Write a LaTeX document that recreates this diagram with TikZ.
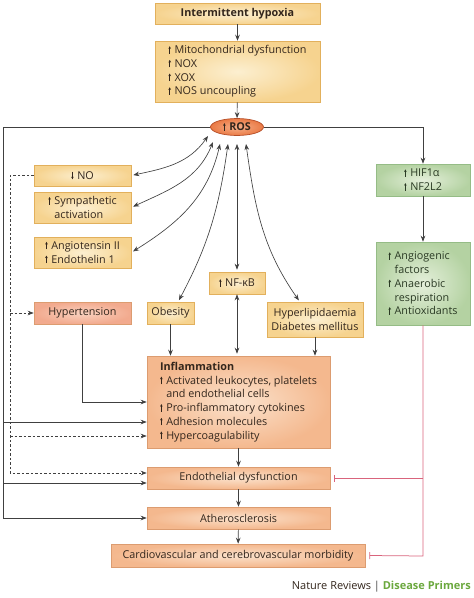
\documentclass[tikz,border=0pt]{standalone}
\usepackage{fontspec}
\setmainfont{Open Sans}
\usetikzlibrary{arrows.meta,shapes.geometric}
\definecolor{yin}{HTML}{FCEFD0}
\definecolor{yout}{HTML}{F6D38F}
\definecolor{ybord}{HTML}{E2B05C}
\definecolor{oin}{HTML}{FBE2CC}
\definecolor{oout}{HTML}{F4B88E}
\definecolor{obord}{HTML}{DC9C70}
\definecolor{hin}{HTML}{FAD2C0}
\definecolor{hout}{HTML}{F2AA8E}
\definecolor{gin}{HTML}{E4EFDA}
\definecolor{gout}{HTML}{B4D2A2}
\definecolor{gbord}{HTML}{95BC86}
\definecolor{rosin}{HTML}{F6B08A}
\definecolor{rosout}{HTML}{EA7A45}
\definecolor{rosbord}{HTML}{B54E28}
\definecolor{txt}{HTML}{33261C}
\definecolor{gtxt}{HTML}{2A3A24}
\definecolor{lin}{HTML}{404040}
\definecolor{inh}{HTML}{D9647C}
\definecolor{npgreen}{HTML}{6BA83E}
\newcommand\ua{\tikz[baseline=0pt]\draw[line width=0.55pt,-{Stealth[length=2.6pt,width=2.6pt]}] (0pt,0pt) -- (0pt,7.6pt);\hspace{3.6pt}}
\newcommand\da{\tikz[baseline=0pt]\draw[line width=0.55pt,-{Stealth[length=2.6pt,width=2.6pt]}] (0pt,7.6pt) -- (0pt,0pt);\hspace{3.6pt}}
\newcommand\ind{\phantom{\ua}}
\tikzset{
  box/.style={line width=0.6pt, inner sep=0pt, align=left, text=txt,
    font=\fontsize{10.8}{13.7}\selectfont},
  ybox/.style={box, draw=ybord, inner color=yin, outer color=yout},
  obox/.style={box, draw=obord, inner color=oin, outer color=oout},
  gbox/.style={box, draw=gbord, inner color=gin, outer color=gout, text=gtxt},
  conn/.style={draw=lin, line width=0.65pt, -{Stealth[length=6pt,width=4.6pt]}},
  dconn/.style={conn, dash pattern=on 2.5pt off 2pt},
  both/.style={draw=lin, line width=0.65pt, {Stealth[length=6pt,width=4.6pt]}-{Stealth[length=6pt,width=4.6pt]}, shorten >=2pt},
  inhib/.style={draw=inh, line width=0.75pt, -{Bar[width=7pt]}}
}
\begin{document}
\begin{tikzpicture}
\useasboundingbox (0,0) rectangle (474pt,-598pt);
\begin{scope}[x=1pt,y=1pt]
\node[ybox, minimum width=165, minimum height=21, font=\fontsize{10.8}{13.7}\selectfont\bfseries] (hyp) at (237.5,-13.5) {Intermittent hypoxia};
\node[ybox, minimum width=165, minimum height=61] (mito) at (237.5,-71.5) {\ua Mitochondrial dysfunction\\\ua NOX\\\ua XOX\\\ua NOS uncoupling};
\node[ellipse, draw=rosbord, inner color=rosin, outer color=rosout, line width=0.7pt, inner sep=0pt, minimum width=53, minimum height=17, text=txt, font=\fontsize{10.8}{12}\selectfont\bfseries] (ros) at (237,-127) {\ua ROS};
\node[ybox, minimum width=97, minimum height=21] (no) at (82.5,-175.5) {\da NO};
\node[ybox, minimum width=97, minimum height=31] (symp) at (82.5,-207.5) {\ua Sympathetic\\\ind activation};
\node[ybox, minimum width=97, minimum height=31] (angio) at (82.5,-252.5) {\ua Angiotensin II\\\ua Endothelin 1};
\node[box, draw=obord, inner color=hin, outer color=hout, minimum width=97, minimum height=22] (hyper) at (82.5,-313) {Hypertension};
\node[ybox, minimum width=47, minimum height=22] (obes) at (170.5,-313) {Obesity};
\node[ybox, minimum width=56, minimum height=22] (nfkb) at (237,-283) {\ua NF-κB};
\node[ybox, minimum width=96, minimum height=35, align=center] (lip) at (315,-319.5) {Hyperlipidaemia\\Diabetes mellitus};
\node[gbox, minimum width=94, minimum height=32] (hif) at (423,-180) {\ua HIF1α\\\ua NF2L2};
\node[gbox, minimum width=94, minimum height=83] (angg) at (423,-283.5) {\ua Angiogenic\\\ind factors\\\ua Anaerobic\\\ind respiration\\\ua Antioxidants};
\node[obox, minimum width=183, minimum height=92] (infl) at (238.5,-402) {\textbf{Inflammation}\\\ua Activated leukocytes, platelets\\\ind and endothelial cells\\\ua Pro-inflammatory cytokines\\\ua Adhesion molecules\\\ua Hypercoagulability};
\node[obox, minimum width=183, minimum height=22] (endo) at (238.5,-478) {Endothelial dysfunction};
\node[obox, minimum width=183, minimum height=22] (ath) at (238.5,-518) {Atherosclerosis};
\node[obox, minimum width=254, minimum height=23] (cardio) at (238,-555.5) {Cardiovascular and cerebrovascular morbidity};
\node[anchor=east, inner sep=0pt, font=\fontsize{11}{12}\selectfont] (credit) at (471,-587) {\textcolor{txt}{Nature Reviews} \textcolor{lin}{|} \textcolor{npgreen}{\bfseries Disease Primers}};
% main chain
\draw[conn] (hyp) -- (mito);
\draw[conn] (mito) -- (ros);
\draw[conn] (infl) -- (endo);
\draw[conn] (endo) -- (ath);
\draw[conn] (ath) -- (cardio);
% ROS right
\draw[conn] (ros.east) -| (hif.north);
\draw[conn] (hif) -- (angg);
% ROS left solid
\coordinate (Ltop) at (3,-127);
\coordinate (L1) at (3,-422);
\coordinate (L2) at (3,-483);
\draw[conn] (ros.west) -- (Ltop) |- (ath.west);
\draw[conn] (L1) -- (L1 -| infl.west);
\draw[conn] (L2) -- (L2 -| endo.west);
% dashed from NO
\coordinate (Dtop) at (10,-175.5);
\coordinate (D1) at (10,-313);
\coordinate (D2) at (10,-436);
\coordinate (D3) at (10,-473);
\draw[dconn] (no.west) -- (Dtop) |- (D3) -- (D3 -| endo.west);
\draw[dconn] (D1) -- (hyper.west);
\draw[dconn] (D2) -- (D2 -| infl.west);
% into inflammation
\draw[conn] (hyper.south) |- (infl.west);
\draw[conn] (obes.south) -- (obes.south |- infl.north);
\draw[both] (nfkb.south) -- (nfkb.south |- infl.north);
\draw[conn] (lip.south) -- (lip.south |- infl.north);
% curved double arrows from ROS
\coordinate (r1) at (208,-136);
\coordinate (r2) at (213,-142);
\coordinate (r3) at (220,-144);
\coordinate (r4) at (228,-144);
\coordinate (r5) at (237,-144);
\coordinate (r6) at (246,-144);
\draw[both] (r1) to[out=-125,in=12] (no.east);
\draw[both] (r2) to[out=-112,in=25] (symp.east);
\draw[both] (r3) to[out=-103,in=32] (angio.east);
\draw[both] (r4) to[out=-98,in=62] (178,-302);
\draw[both] (r5) -- (nfkb.north);
\draw[both] (r6) to[out=-82,in=125] (300,-302);
% inhibitory
\coordinate (R1) at (423,-556);
\coordinate (R2) at (423,-478);
\draw[inhib] (angg.south) -- (R1) -- ([xshift=4pt]cardio.east);
\draw[inhib] (R2) -- ([xshift=4pt]endo.east);
\end{scope}
\end{tikzpicture}
\end{document}
